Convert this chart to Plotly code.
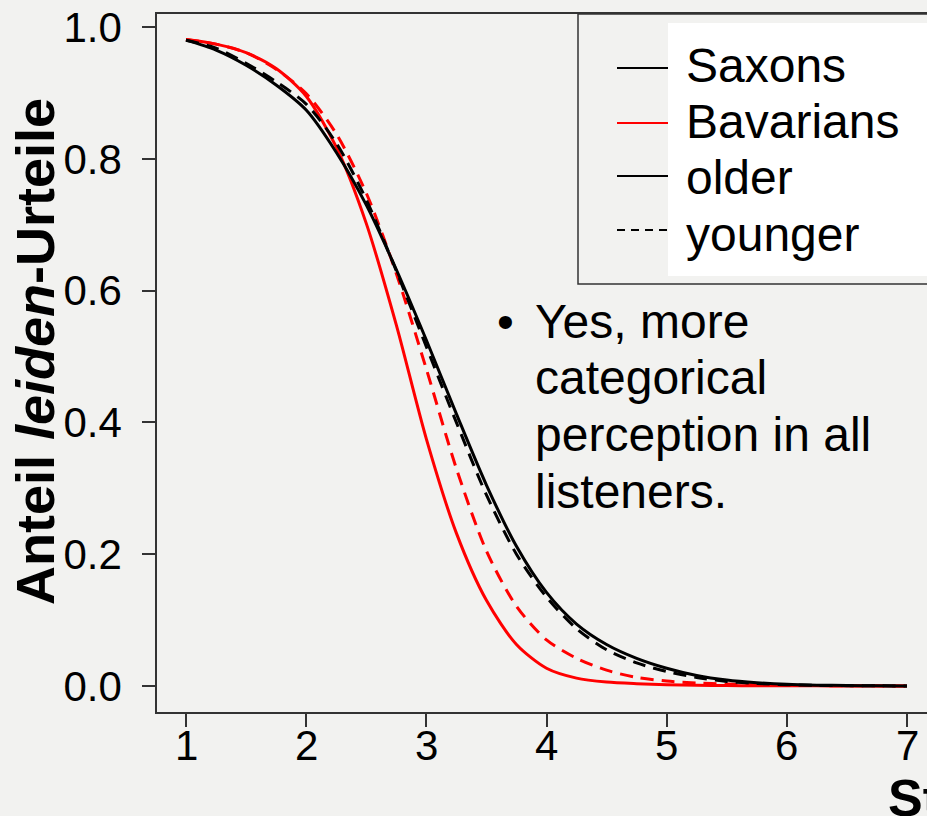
import plotly.graph_objects as go

# ---- data ----
stimulus = [1.0, 1.25, 1.5, 1.75, 2.0, 2.25, 2.5, 2.75, 3.0, 3.25, 3.5, 3.75, 4.0,
            4.25, 4.5, 4.75, 5.0, 5.25, 5.5, 5.75, 6.0, 6.25, 6.5, 6.75, 7.0]

saxons_older = [0.980, 0.965, 0.942, 0.912, 0.874, 0.810, 0.730, 0.632, 0.525, 0.413, 0.305, 0.212, 0.142,
                0.094, 0.063, 0.042, 0.027, 0.016, 0.009, 0.005, 0.0025, 0.0013, 0.0007, 0.0003, 0.0001]
saxons_younger = [0.980, 0.968, 0.945, 0.917, 0.883, 0.824, 0.738, 0.630, 0.515, 0.400, 0.290, 0.200, 0.135,
                  0.087, 0.055, 0.035, 0.022, 0.013, 0.007, 0.0038, 0.002, 0.001, 0.0005, 0.0003, 0.0001]
bavarians_older = [0.981, 0.974, 0.961, 0.937, 0.895, 0.818, 0.702, 0.548, 0.375, 0.232, 0.130, 0.063, 0.027,
                   0.012, 0.006, 0.0035, 0.002, 0.001, 0.0006, 0.0004, 0.0003, 0.0002, 0.0001, 0.0001, 0.0001]
bavarians_younger = [0.981, 0.974, 0.961, 0.936, 0.899, 0.838, 0.748, 0.626, 0.481, 0.330, 0.205, 0.121, 0.070,
                     0.042, 0.024, 0.013, 0.0075, 0.0045, 0.003, 0.002, 0.001, 0.0006, 0.0004, 0.0002, 0.0001]

x_ticks = [1, 2, 3, 4, 5, 6, 7]
x_tick_labels = ["1", "2", "3", "4", "5", "6", "7"]
y_ticks = [0.0, 0.2, 0.4, 0.6, 0.8, 1.0]
y_tick_labels = ["0.0", "0.2", "0.4", "0.6", "0.8", "1.0"]
legend_labels = ["Saxons", "Bavarians", "older", "younger"]
note_lines = ["Yes, more", "categorical", "perception in all", "listeners."]
y_title = "<b>Anteil <i>leiden</i>-Urteile</b>"
x_title = "<b>Stimulus</b>"

# ---- geometry helpers (pixel -> paper) ----
W, H = 927, 816
ML, MR, MT, MB = 157, 0, 14, 104
PW = W - ML - MR
PH = H - MT - MB

def px(x):
    return (x - ML) / PW

def py(y):
    return (H - MB - y) / PH

BG = "#f2f2f0"
FONT = "Liberation Sans, Arial, Helvetica, sans-serif"
DASH = "13px,8px"

fig = go.Figure()
series = [
    (bavarians_older, "red", "solid"),
    (bavarians_younger, "red", DASH),
    (saxons_younger, "black", DASH),
    (saxons_older, "black", "solid"),
]
for vals, col, dash in series:
    fig.add_trace(go.Scatter(
        x=stimulus, y=vals, mode="lines",
        line=dict(color=col, width=3, dash=dash, shape="spline", smoothing=0.8),
        showlegend=False, hoverinfo="skip"))

# x range so that 1 sits at px 186 and 7 at px 907
ux = (907 - 186) / 6.0
x0 = 1 - (186 - ML) / ux
x1 = 1 + (W - MR - 186) / ux
uy = (686 - 27) / 1.0
y0 = -(H - MB - 686) / uy
y1 = (686 - MT) / uy

fig.update_xaxes(
    range=[x0, x1], tickvals=x_ticks, showticklabels=False, automargin=False,
    showgrid=False, zeroline=False, showline=True, mirror=True,
    linecolor="#333333", linewidth=1.5,
    ticks="outside", ticklen=13, tickwidth=1.5, tickcolor="#333333")
fig.update_yaxes(
    range=[y0, y1], tickvals=y_ticks, ticktext=y_tick_labels, automargin=False,
    showgrid=False, zeroline=False, showline=True, mirror=False,
    linecolor="#333333", linewidth=1.5,
    ticks="outside", ticklen=13, tickwidth=1.5, tickcolor="#333333",
    ticklabelstandoff=12,
    tickfont=dict(family=FONT, size=42, color="black"))

shapes = []
# legend frame
shapes.append(dict(type="rect", xref="paper", yref="paper",
                   x0=px(578), x1=px(945), y0=py(284), y1=py(14),
                   line=dict(color="#333333", width=1.5), fillcolor="rgba(0,0,0,0)"))
# white panel behind the legend labels
shapes.append(dict(type="rect", xref="paper", yref="paper",
                   x0=px(668), x1=px(945), y0=py(276), y1=py(23),
                   line=dict(width=0), fillcolor="white"))
leg_rows = [68, 123, 176, 230]
leg_styles = [("black", "solid"), ("red", "solid"), ("black", "solid"), ("black", "dash")]
for yy, (col, dash) in zip(leg_rows, leg_styles):
    shapes.append(dict(type="line", xref="paper", yref="paper",
                       x0=px(617), x1=px(668), y0=py(yy), y1=py(yy),
                       line=dict(color=col, width=2, dash="8px,6px" if dash == "dash" else "solid")))

annotations = []
# x tick labels
for xv, lab in zip(x_ticks, x_tick_labels):
    annotations.append(dict(text=lab, xref="x", yref="paper", x=xv, y=py(745),
                            xanchor="center", yanchor="middle", showarrow=False,
                            font=dict(family=FONT, size=42, color="black")))

leg_centers = [66, 121, 178, 234]
for lab, yc in zip(legend_labels, leg_centers):
    annotations.append(dict(text=lab, xref="paper", yref="paper", x=px(684), y=py(yc),
                            xanchor="left", yanchor="middle", showarrow=False,
                            font=dict(family=FONT, size=48, color="black")))

note_centers = [321, 377, 434, 491]
for line, yc in zip(note_lines, note_centers):
    annotations.append(dict(text=line, xref="paper", yref="paper", x=px(533), y=py(yc),
                            xanchor="left", yanchor="middle", showarrow=False,
                            font=dict(family=FONT, size=48, color="black")))
annotations.append(dict(text="•", xref="paper", yref="paper", x=px(495), y=py(321),
                        xanchor="left", yanchor="middle", showarrow=False,
                        font=dict(family=FONT, size=48, color="black")))

annotations.append(dict(text=y_title, xref="paper", yref="paper", x=px(35), y=py(352),
                        xanchor="center", yanchor="middle", textangle=-90, showarrow=False,
                        font=dict(family=FONT, size=54, color="black")))
annotations.append(dict(text=x_title, xref="paper", yref="paper", x=px(886), y=py(798),
                        xanchor="left", yanchor="middle", showarrow=False,
                        font=dict(family=FONT, size=52, color="black")))

fig.update_layout(
    width=W, height=H,
    margin=dict(l=ML, r=MR, t=MT, b=MB, pad=0, autoexpand=False),
    paper_bgcolor=BG, plot_bgcolor=BG,
    shapes=shapes, annotations=annotations,
    showlegend=False,
)

fig.write_html(
    "out.html",
    config={"displayModeBar": False},
    post_script="document.documentElement.style.margin='0';document.body.style.margin='0';"
                "document.body.style.padding='0';document.body.style.overflow='hidden';",
)
